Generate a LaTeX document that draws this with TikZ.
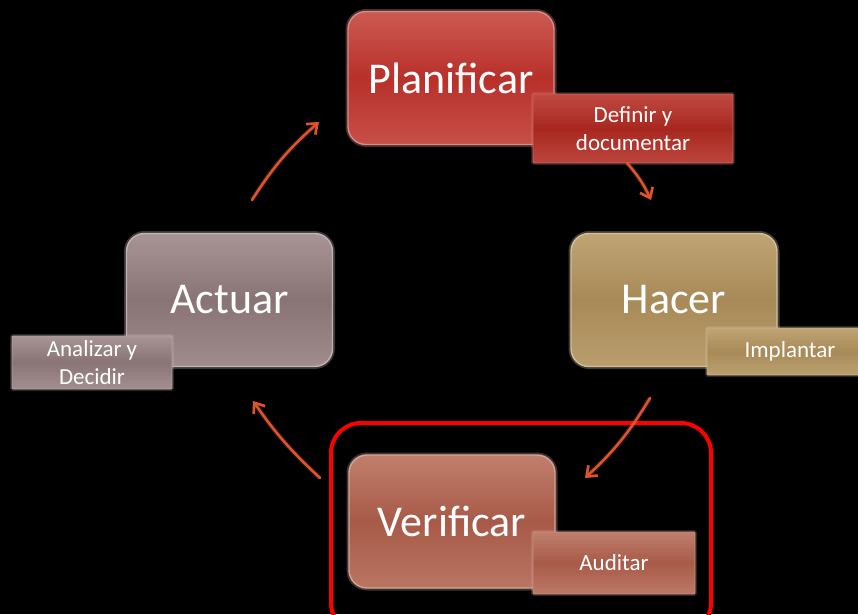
\documentclass[tikz,border=0pt]{standalone}
\usepackage{fontspec}
\setmainfont{Carlito}
\usetikzlibrary{arrows.meta}
\definecolor{planC}{HTML}{B8302A}
\definecolor{planL}{HTML}{CC5A52}
\definecolor{defC}{HTML}{A8281F}
\definecolor{defL}{HTML}{C04A42}
\definecolor{hacC}{HTML}{A88A58}
\definecolor{hacL}{HTML}{C0A474}
\definecolor{actC}{HTML}{887474}
\definecolor{actL}{HTML}{A89494}
\definecolor{verC}{HTML}{A85A48}
\definecolor{verL}{HTML}{C07E6C}
\definecolor{arrC}{HTML}{E0522A}
\tikzset{
  mainbox/.style={rounded corners=18pt, minimum width=206pt, minimum height=133pt,
    text=white, font=\fontsize{44}{48}\selectfont, inner sep=0pt,
    preaction={draw=#1L!60!white, line width=5pt, opacity=0.3},
    draw=#1L!70!white, line width=1.4pt, top color=#1L, bottom color=#1L!75!#1C, middle color=#1C},
  subbox/.style={rounded corners=1pt, text=white, inner sep=0pt, align=center,
    font=\fontsize{23}{28}\selectfont,
    preaction={draw=#1L!60!white, line width=4pt, opacity=0.2},
    draw=#1L!85!white, line width=0.8pt, top color=#1L, bottom color=#1L!85!#1C, middle color=#1C},
  cyclearrow/.style={draw=arrC, line width=2.6pt, line cap=round,
    -{Straight Barb[length=9pt, width=14pt, line width=2.6pt]},
    preaction={draw=arrC!60!white, line width=5pt, opacity=0.15}},
  highlight/.style={draw=red, line width=4pt, rounded corners=30pt}
}
\begin{document}
\begin{tikzpicture}[x=1pt, y=-1pt]
\fill[black] (0,0) rectangle (858,614);
\useasboundingbox (0,0) rectangle (858,614);
\clip (0,0) rectangle (858,614);
% main boxes
\node[mainbox=plan] (plan) at (451,78) {Planificar};
\node[subbox=def, minimum width=200pt, minimum height=69pt] (def) at (633,128.5) {Definir y\\documentar};
\node[mainbox=hac] (hac) at (674,300) {Hacer};
\node[subbox=hac, minimum width=166pt, minimum height=47pt] (imp) at (790,351.5) {Implantar};
\node[mainbox=act] (act) at (229.5,300) {Actuar};
\node[subbox=act, minimum width=160pt, minimum height=53pt] (ana) at (92,362.5) {Analizar y\\Decidir};
\node[mainbox=ver] (ver) at (452,521.5) {Verificar};
\node[subbox=ver, minimum width=162pt, minimum height=62pt] (aud) at (614,563) {Auditar};
% highlight around Verificar
\node[highlight, minimum width=380pt, minimum height=210pt] (hl) at (521,528) {};
% arrow end points
\coordinate (a1s) at (252,200); \coordinate (a1e) at (319,122);
\coordinate (a2s) at (627,163); \coordinate (a2e) at (651,200);
\coordinate (a3s) at (650,398); \coordinate (a3e) at (585,478);
\coordinate (a4s) at (320,478); \coordinate (a4e) at (253,401);
\draw[cyclearrow] (a1s) to[bend left=8] (a1e);
\draw[cyclearrow] (a2s) to[bend left=8] (a2e);
\draw[cyclearrow] (a3s) to[bend left=8] (a3e);
\draw[cyclearrow] (a4s) to[bend left=6] (a4e);
\end{tikzpicture}
\end{document}
